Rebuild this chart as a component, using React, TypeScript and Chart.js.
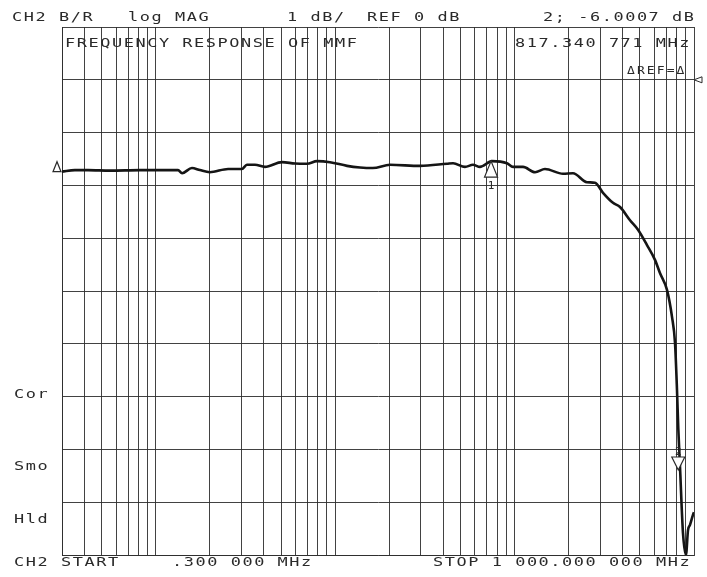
import React, { useEffect, useRef } from "react";
import { Chart, registerables } from "chart.js";

Chart.register(...registerables);

// Trace: frequency (MHz) vs magnitude (dB)
const freqMHz = [
  0.3, 0.354, 0.419, 0.556, 0.816, 1.125, 1.33, 1.4, 1.59, 1.76, 2.0, 2.53, 3.02, 3.22, 3.57,
  4.06, 5.05, 5.97, 6.96, 7.92, 9.35, 11.64, 13.75, 16.2, 20.2, 29.7, 42.0, 45.4, 52.9, 58.6,
  64.1, 74.8, 90.7, 98.0, 111.4, 130, 147.7, 186, 211.6, 253, 280.6, 311, 353.5, 386.9, 439.9,
  487.4, 547, 606, 646, 707, 754, 783.6, 804, 817.3, 835.6, 868, 902, 926, 950, 987, 1000,
];
const magDb = [
  -1.74, -1.71, -1.71, -1.72, -1.71, -1.71, -1.71, -1.77, -1.67, -1.71, -1.75, -1.69, -1.69, -1.61, -1.61,
  -1.65, -1.56, -1.585, -1.59, -1.54, -1.56, -1.63, -1.66, -1.67, -1.61, -1.63, -1.59, -1.58, -1.65, -1.61,
  -1.65, -1.54, -1.58, -1.65, -1.65, -1.75, -1.69, -1.78, -1.77, -1.94, -1.95, -2.14, -2.33, -2.41, -2.66,
  -2.84, -3.13, -3.41, -3.66, -3.98, -4.49, -4.98, -5.88, -6.6, -7.33, -8.58, -9.0, -8.53, -8.43, -8.24, -8.19,
];

// Log grid frequencies (MHz)
const gridFreqs = [
  0.3, 0.4, 0.5, 0.6, 0.7, 0.8, 0.9,
  1, 2, 3, 4, 5, 6, 7, 8, 9,
  10, 20, 30, 40, 50, 60, 70, 80, 90,
  100, 200, 300, 400, 500, 600, 700, 800, 900,
  1000,
];

const yMin = -9;
const yMax = 1;
const refLevelDb = 0;

// Markers: reference Δ, marker 1, marker 2
const markerFreq = [0.3, 73.9, 817.34];
const markerDb = [-1.74, -1.54, -7.39];
const markerLabel = ["Δ", "1", "2"];

const headerTexts = [
  { t: "CH2 B/R", x: 12, y: 21 },
  { t: "log MAG", x: 128, y: 21 },
  { t: "1 dB/", x: 287, y: 21 },
  { t: "REF 0 dB", x: 367, y: 21 },
  { t: "2; -6.0007 dB", x: 543, y: 21 },
  { t: "FREQUENCY RESPONSE OF MMF", x: 65, y: 47 },
  { t: "817.340 771 MHz", x: 515, y: 47 },
  { t: "Cor", x: 14, y: 398 },
  { t: "Smo", x: 14, y: 470 },
  { t: "Hld", x: 14, y: 523 },
  { t: "CH2 START", x: 14, y: 566 },
  { t: ".300 000 MHz", x: 172, y: 566 },
  { t: "STOP 1 000.000 000 MHz", x: 433, y: 566 },
];

const INK = "#2a2a2a";
const GRID = "rgba(45,45,45,0.9)";

function wideText(ctx: CanvasRenderingContext2D, t: string, x: number, y: number, sx: number, spacing: number) {
  ctx.save();
  ctx.translate(x, y);
  ctx.scale(sx, 1);
  (ctx as any).letterSpacing = spacing + "px";
  ctx.fillText(t, 0, 0);
  ctx.restore();
}

const annotationPlugin = {
  id: "vnaAnnotations",
  afterDraw(chart: any) {
    const ctx = chart.ctx as CanvasRenderingContext2D;
    const xs = chart.scales.x;
    const ys = chart.scales.y;
    const area = chart.chartArea;
    ctx.save();
    ctx.fillStyle = INK;
    ctx.strokeStyle = INK;
    ctx.textBaseline = "alphabetic";
    ctx.textAlign = "left";
    ctx.font = "13px 'DejaVu Sans Mono'";
    headerTexts.forEach((h) => wideText(ctx, h.t, h.x, h.y, 1.3, 1.2));

    ctx.font = "10px 'DejaVu Sans Mono'";
    wideText(ctx, "ΔREF=Δ", 627, 74, 1.3, 1.6);

    // reference level indicator at right edge
    const ry = ys.getPixelForValue(refLevelDb);
    ctx.lineWidth = 1;
    ctx.beginPath();
    ctx.moveTo(area.right, ry);
    ctx.lineTo(area.right + 8, ry - 3);
    ctx.lineTo(area.right + 8, ry + 3);
    ctx.closePath();
    ctx.fillStyle = "#fff";
    ctx.fill();
    ctx.stroke();

    // markers
    ctx.lineWidth = 1.2;
    ctx.font = "11px 'DejaVu Sans Mono'";
    ctx.textAlign = "center";
    markerFreq.forEach((f, i) => {
      const px = xs.getPixelForValue(f);
      const py = ys.getPixelForValue(markerDb[i]);
      ctx.beginPath();
      if (i === 0) {
        ctx.moveTo(px - 9, py);
        ctx.lineTo(px - 1, py);
        ctx.lineTo(px - 5, py - 10);
      } else if (i === 1) {
        ctx.moveTo(px, py);
        ctx.lineTo(px - 6.5, py + 16);
        ctx.lineTo(px + 6.5, py + 16);
      } else {
        ctx.moveTo(px, py);
        ctx.lineTo(px - 6.5, py - 13);
        ctx.lineTo(px + 6.5, py - 13);
      }
      ctx.closePath();
      ctx.fillStyle = "#fff";
      if (i !== 0) ctx.fill();
      ctx.stroke();
      ctx.fillStyle = INK;
      if (i === 1) ctx.fillText(markerLabel[i], px, py + 28);
      if (i === 2) ctx.fillText(markerLabel[i], px, py - 15);
    });
    ctx.restore();
  },
};

export default function App() {
  const ref = useRef<HTMLCanvasElement | null>(null);
  useEffect(() => {
    if (!ref.current) return;
    const chart = new Chart(ref.current, {
      type: "line",
      data: {
        datasets: [
          {
            data: freqMHz.map((f, i) => ({ x: f, y: magDb[i] })),
            borderColor: "#151515",
            borderWidth: 2.6,
            pointRadius: 0,
            cubicInterpolationMode: "monotone",
            fill: false,
          },
        ],
      },
      options: {
        animation: false,
        responsive: false,
        maintainAspectRatio: false,
        layout: { padding: { left: 62, right: 13, top: 27, bottom: 22 } },
        plugins: { legend: { display: false }, tooltip: { enabled: false }, title: { display: false } },
        scales: {
          x: {
            type: "logarithmic",
            min: 0.3,
            max: 1000,
            afterBuildTicks: (s: any) => {
              s.ticks = gridFreqs.map((v) => ({ value: v }));
            },
            ticks: { display: false },
            grid: { color: GRID, lineWidth: 1, drawTicks: false },
            border: { display: true, color: GRID, width: 1 },
          },
          y: {
            type: "linear",
            min: yMin,
            max: yMax,
            ticks: { display: false, stepSize: 1 },
            grid: { color: GRID, lineWidth: 1, drawTicks: false },
            border: { display: true, color: GRID, width: 1 },
          },
        },
      } as any,
      plugins: [annotationPlugin],
    });
    return () => chart.destroy();
  }, []);
  return (
    <div style={{ position: "fixed", left: 0, top: 0, width: 707, height: 577, background: "#fff" }}>
      <canvas ref={ref} width={707} height={577} />
    </div>
  );
}
